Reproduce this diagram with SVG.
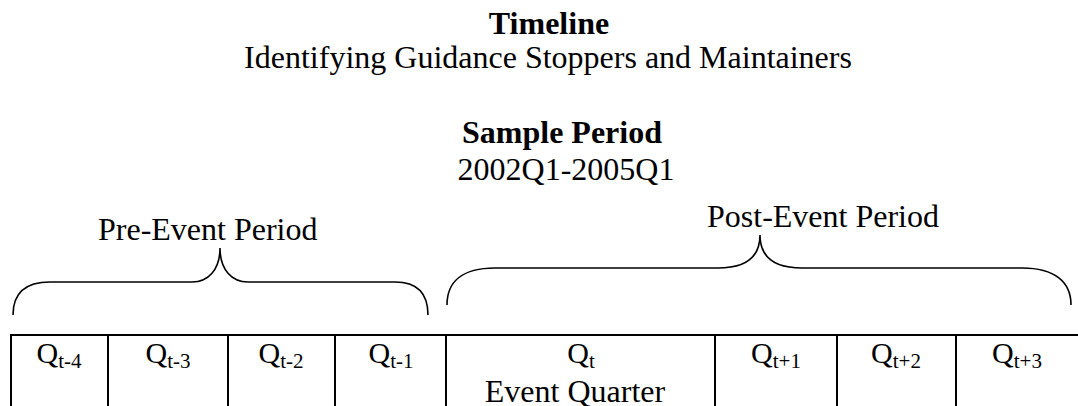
<svg xmlns="http://www.w3.org/2000/svg" width="1078" height="406" viewBox="0 0 1078 406">
<style>
text{font-family:"Liberation Serif","Times New Roman",serif;fill:#000;font-size:32px;}
.c{text-anchor:middle;}
.b{font-weight:bold;}
.q{font-size:30px;text-anchor:middle;}
.s{font-size:21px;}
.ln{stroke:#000;stroke-width:2;fill:none;}
.br{stroke:#000;stroke-width:1.6;fill:none;}
</style>
<rect width="1078" height="406" fill="#fff"/>
<g id="title">
<text class="c b" x="549" y="34">Timeline</text>
<text class="c" x="548" y="68">Identifying Guidance Stoppers and Maintainers</text>
</g>
<g id="sample">
<text class="c b" x="562" y="143">Sample Period</text>
<text class="c" x="566" y="180">2002Q1-2005Q1</text>
</g>
<g id="pre">
<text x="98" y="240">Pre-Event Period</text>
<path class="br" d="M13,315 C13,294 25,282 50,282 L192,282 C208,282 220,270 220,248 C220,270 232,282 248,282 L395,282 C418,282 428,294 428,315"/>
</g>
<g id="post">
<text x="707" y="227">Post-Event Period</text>
<path class="br" d="M447,305 C447,282 462,268 495,268 L718,268 C744,268 760,258 760,235 C760,258 776,268 802,268 L1022,268 C1055,268 1071,282 1071,305"/>
</g>
<g id="table">
<path class="ln" d="M10,335 H1078 M11,335 V406 M108,335 V406 M228,335 V406 M335,335 V406 M446,335 V406 M715,335 V406 M837,335 V406 M956,335 V406"/>
</g>
<g id="cells">
<text class="q" x="59" y="363">Q<tspan class="s" dy="5">t-4</tspan></text>
<text class="q" x="168" y="363">Q<tspan class="s" dy="5">t-3</tspan></text>
<text class="q" x="281" y="363">Q<tspan class="s" dy="5">t-2</tspan></text>
<text class="q" x="391" y="363">Q<tspan class="s" dy="5">t-1</tspan></text>
<text class="q" x="581" y="363">Q<tspan class="s" dy="5">t</tspan></text>
<text class="q" x="575" y="402" style="font-size:32px">Event Quarter</text>
<text class="q" x="776" y="363">Q<tspan class="s" dy="5">t+1</tspan></text>
<text class="q" x="896" y="363">Q<tspan class="s" dy="5">t+2</tspan></text>
<text class="q" x="1017" y="363">Q<tspan class="s" dy="5">t+3</tspan></text>
</g>
</svg>
